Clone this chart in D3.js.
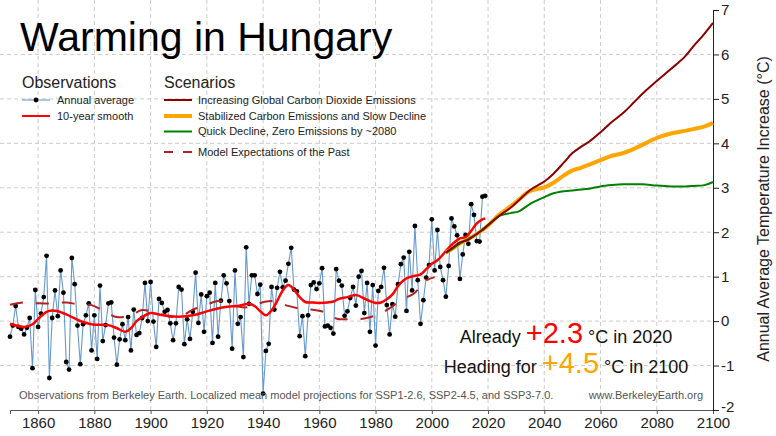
<!DOCTYPE html>
<html>
<head>
<meta charset="utf-8">
<script src="https://cdn.jsdelivr.net/npm/d3@7"></script>
<style>
  body { margin: 0; background: #fff; }
  svg { display: block; font-family: "Liberation Sans", Arial, sans-serif; }
  .grid line { stroke: #cccccc; stroke-width: 1; stroke-dasharray: 4,3; }
  .axis text { font-size: 15px; fill: #222; }
</style>
</head>
<body>
<svg id="chart"></svg>
<script>
// Annual observations, starting 1850 (one value per year)
const obsStart = 1850;
const obsValues = [
  -0.35, -0.10, 0.34, -0.13, -0.17, -0.30, -0.15, 0.07, -1.06, 0.70,
  -0.13, 0.17, 0.54, 1.47, -1.28, 0.07, 0.69, 0.11, 1.14, 0.64,
  -0.92, -1.09, 1.42, 0.83, -0.10, -0.97, -0.07, 0.13, 0.40, -0.66,
  0.13, -0.85, 0.80, -0.45, -0.09, 0.40, 0.42, -0.37, -0.98, -0.41,
  -0.07, -0.43, 0.09, -0.66, 0.26, -0.31, -0.27, 0.07, 0.86, 0.00,
  0.88, -0.01, -0.58, 0.50, 0.41, 0.21, 0.25, -0.05, -0.43, -0.05,
  0.77, 0.71, -0.52, 0.04, -0.40, 0.21, 1.09, -0.04, 0.60, -0.24,
  0.56, 0.64, -0.49, 0.86, -0.35, 0.46, 1.03, 0.85, 0.45, -0.62,
  1.14, -0.06, 0.09, -0.81, 1.66, 0.39, 1.03, 1.03, 0.61, 0.82,
  -1.63, -0.67, -0.51, 0.77, 0.26, 0.75, 1.11, 0.76, 0.91, 1.29,
  1.65, 0.71, 0.67, -0.34, 0.11, -0.79, 0.13, 0.81, 0.87, 0.72,
  0.85, 1.19, -0.12, -0.10, -0.15, -0.28, 1.17, 0.91, 0.80, 0.12,
  0.22, 0.52, 0.77, 0.35, 1.00, 1.13, 0.18, 0.86, -0.24, 0.81,
  -0.55, 0.68, 0.77, 1.20, 0.36, -0.30, 0.38, 0.10, 0.83, 1.28,
  1.43, 0.23, 1.56, 0.69, 2.14, 0.92, -0.06, 0.47, 0.98, 1.26,
  2.29, 1.14, 2.05, 1.22, 0.92, 0.55, 1.24, 2.31, 2.13, 1.93,
  0.95, 1.50, 1.94, 1.74, 2.63, 2.39, 1.80, 1.79, 2.80, 2.82
];

// 10-year smooth
const smoothYears = [1850, 1855, 1858, 1860, 1863, 1865, 1867, 1870, 1873, 1876, 1880, 1885, 1888, 1891,
  1893, 1895, 1897, 1900, 1903, 1906, 1910, 1915, 1920, 1925, 1928, 1931, 1933, 1935, 1937, 1939,
  1941, 1943, 1945, 1947, 1949, 1951, 1953, 1955, 1957, 1960, 1963, 1965, 1967, 1970, 1973, 1975,
  1978, 1980, 1982, 1984, 1986, 1988, 1990, 1992, 1994, 1996, 1998, 2000, 2002, 2004, 2006, 2008,
  2010, 2012, 2014, 2016, 2018, 2019];
const smoothValues = [-0.06, -0.13, -0.07, 0.05, 0.21, 0.24, 0.22, 0.15, 0.06, -0.02, -0.08, -0.09, -0.16, -0.24,
  -0.16, 0.00, 0.09, 0.18, 0.15, 0.12, 0.10, 0.13, 0.22, 0.30, 0.33, 0.34, 0.37, 0.39, 0.34, 0.22,
  0.13, 0.24, 0.45, 0.69, 0.81, 0.71, 0.54, 0.43, 0.42, 0.41, 0.42, 0.44, 0.50, 0.54, 0.59, 0.54,
  0.45, 0.41, 0.42, 0.49, 0.60, 0.79, 0.92, 0.99, 1.02, 1.05, 1.17, 1.29, 1.37, 1.50, 1.65, 1.77,
  1.86, 1.89, 2.03, 2.20, 2.29, 2.31];

// Model expectations of the past
const modelYears = [1850, 1855, 1860, 1865, 1870, 1874, 1879, 1883, 1888, 1893, 1897, 1902, 1907, 1911,
  1915, 1919, 1924, 1928, 1931, 1934, 1938, 1943, 1948, 1953, 1957, 1962, 1966, 1971, 1976, 1981,
  1985, 1989, 1994, 1997, 2001];
const modelValues = [0.37, 0.42, 0.40, 0.40, 0.42, 0.38, 0.36, 0.24, 0.09, 0.13, 0.25, 0.18, 0.10, 0.11,
  0.26, 0.34, 0.45, 0.39, 0.33, 0.31, 0.39, 0.45, 0.36, 0.28, 0.26, 0.20, 0.06, 0.04, 0.06, 0.15,
  0.29, 0.47, 0.64, 0.88, 0.99];

// Scenario projections
const scenarioYears = [2005, 2008, 2010, 2013, 2015, 2018, 2020, 2024, 2028, 2031, 2035, 2040, 2043, 2047,
  2050, 2053, 2056, 2060, 2064, 2068, 2072, 2075, 2080, 2085, 2090, 2093, 2097, 2100];
const highValues = [1.54, 1.68, 1.77, 1.83, 1.92, 2.05, 2.16, 2.37, 2.55, 2.72, 2.95, 3.14, 3.30, 3.57,
  3.78, 3.92, 4.04, 4.25, 4.48, 4.68, 4.93, 5.12, 5.40, 5.67, 5.95, 6.18, 6.47, 6.71];
const midValues = [1.54, 1.66, 1.75, 1.85, 1.92, 2.05, 2.15, 2.40, 2.58, 2.74, 2.93, 3.01, 3.10, 3.28,
  3.39, 3.45, 3.52, 3.62, 3.72, 3.78, 3.88, 3.97, 4.12, 4.22, 4.28, 4.32, 4.38, 4.46];
const lowValues = [1.54, 1.66, 1.75, 1.85, 1.92, 2.06, 2.16, 2.37, 2.43, 2.47, 2.64, 2.79, 2.87, 2.92,
  2.94, 2.96, 2.98, 3.03, 3.06, 3.08, 3.08, 3.08, 3.05, 3.03, 3.03, 3.04, 3.06, 3.13];

const xTicks = [1860, 1880, 1900, 1920, 1940, 1960, 1980, 2000, 2020, 2040, 2060, 2080, 2100];
const yTicks = [-2, -1, 0, 1, 2, 3, 4, 5, 6, 7];
const gridYears = [1860, 1880, 1900, 1920, 1940, 1960, 1980, 2000, 2020, 2040, 2060, 2080];
const gridValues = [-1, 0, 1, 2, 3, 4, 5, 6];

const config = {
  containerWidth: 776,
  containerHeight: 436,
  margin: { top: 10, right: 63, bottom: 26, left: 10 }
};
const width = config.containerWidth - config.margin.left - config.margin.right;
const height = config.containerHeight - config.margin.top - config.margin.bottom;

const colors = {
  obs: '#6699cc',
  smooth: '#ff0000',
  model: '#b22222',
  high: '#8b0000',
  mid: '#ffa500',
  low: '#008000'
};

// Scales
const xScale = d3.scaleLinear().domain([1850, 2100]).range([0, width]);
const yScale = d3.scaleLinear().domain([-2, 7]).range([height, 0]);

const svg = d3.select('#chart')
  .attr('width', config.containerWidth)
  .attr('height', config.containerHeight);

const chart = svg.append('g')
  .attr('transform', `translate(${config.margin.left},${config.margin.top})`);

// Gridlines
chart.append('g')
  .attr('class', 'grid')
  .selectAll('line')
  .data(gridYears)
  .join('line')
  .attr('x1', d => xScale(d))
  .attr('x2', d => xScale(d))
  .attr('y1', -config.margin.top)
  .attr('y2', height);

chart.append('g')
  .attr('class', 'grid')
  .selectAll('line')
  .data(gridValues)
  .join('line')
  .attr('x1', -config.margin.left)
  .attr('x2', width)
  .attr('y1', d => yScale(d))
  .attr('y2', d => yScale(d));

// Axes
const xAxis = d3.axisBottom(xScale)
  .tickValues(xTicks)
  .tickFormat(d3.format('d'))
  .tickSize(4)
  .tickPadding(3);

const xAxisG = chart.append('g')
  .attr('class', 'axis x-axis')
  .attr('transform', `translate(0,${height})`)
  .call(xAxis);
xAxisG.select('.domain').attr('stroke', '#555');
xAxisG.selectAll('.tick line').attr('stroke', '#555');
xAxisG.selectAll('text').attr('font-family', null).attr('font-size', null);

const yAxis = d3.axisRight(yScale)
  .tickValues(yTicks)
  .tickFormat(d => d < 0 ? '-' + Math.abs(d) : String(d))
  .tickSize(6)
  .tickPadding(2);

const yAxisG = chart.append('g')
  .attr('class', 'axis y-axis')
  .attr('transform', `translate(${width},0)`)
  .call(yAxis);
yAxisG.select('.domain').attr('stroke', '#222');
yAxisG.selectAll('.tick line').attr('stroke', '#222');
yAxisG.selectAll('text').attr('font-family', null).attr('font-size', null);
// keep the bottom "-2" clear of the "2100" label
yAxisG.selectAll('.tick text').filter(d => d === -2).attr('dy', '0.1em');

svg.append('text')
  .attr('transform', 'translate(769,209) rotate(-90)')
  .attr('text-anchor', 'middle')
  .attr('font-size', 16)
  .attr('fill', '#222')
  .text('Annual Average Temperature Increase (°C)');

// Title
svg.append('text')
  .attr('x', 20)
  .attr('y', 51)
  .attr('font-size', 41)
  .attr('fill', '#000')
  .text('Warming in Hungary');

// Line generators
const toPoints = (years, values) => years.map((y, i) => ({ year: y, value: values[i] }));
const obsData = obsValues.map((v, i) => ({ year: obsStart + i, value: v }));

const straightLine = d3.line()
  .x(d => xScale(d.year))
  .y(d => yScale(d.value));

const curvedLine = d3.line()
  .x(d => xScale(d.year))
  .y(d => yScale(d.value))
  .curve(d3.curveCatmullRom.alpha(0.5));

// Observations
chart.append('path')
  .datum(obsData)
  .attr('fill', 'none')
  .attr('stroke', colors.obs)
  .attr('stroke-width', 1.1)
  .attr('d', straightLine);

chart.append('g')
  .selectAll('circle')
  .data(obsData)
  .join('circle')
  .attr('cx', d => xScale(d.year))
  .attr('cy', d => yScale(d.value))
  .attr('r', 2.4)
  .attr('fill', '#000');

// Model expectations of the past
chart.append('path')
  .datum(toPoints(modelYears, modelValues))
  .attr('fill', 'none')
  .attr('stroke', colors.model)
  .attr('stroke-width', 2)
  .attr('stroke-dasharray', '13,13')
  .attr('d', curvedLine);

// 10-year smooth
chart.append('path')
  .datum(toPoints(smoothYears, smoothValues))
  .attr('fill', 'none')
  .attr('stroke', colors.smooth)
  .attr('stroke-width', 2.5)
  .attr('d', curvedLine);

// Scenarios
[
  { values: midValues, color: colors.mid, w: 4 },
  { values: lowValues, color: colors.low, w: 2 },
  { values: highValues, color: colors.high, w: 2 }
].forEach(s => {
  chart.append('path')
    .datum(toPoints(scenarioYears, s.values))
    .attr('fill', 'none')
    .attr('stroke', s.color)
    .attr('stroke-width', s.w)
    .attr('d', curvedLine);
});

// Legend
const legend = svg.append('g').attr('class', 'legend');

legend.append('text').attr('x', 22).attr('y', 88).attr('font-size', 16).attr('fill', '#222').text('Observations');
legend.append('text').attr('x', 164).attr('y', 88).attr('font-size', 16).attr('fill', '#222').text('Scenarios');

const obsItems = [
  { label: 'Annual average', color: colors.obs, w: 1.1, dot: true, y: 100 },
  { label: '10-year smooth', color: colors.smooth, w: 2, dot: false, y: 116 }
];
const scenarioItems = [
  { label: 'Increasing Global Carbon Dioxide Emissions', color: colors.high, w: 2, dash: null, y: 100 },
  { label: 'Stabilized Carbon Emissions and Slow Decline', color: colors.mid, w: 4, dash: null, y: 116 },
  { label: 'Quick Decline, Zero Emissions by ~2080', color: colors.low, w: 2, dash: null, y: 131.5 },
  { label: 'Model Expectations of the Past', color: colors.model, w: 2, dash: '9,10', y: 152 }
];

obsItems.forEach(item => {
  const row = legend.append('g');
  row.append('line')
    .attr('x1', 22).attr('x2', 50)
    .attr('y1', item.y).attr('y2', item.y)
    .attr('stroke', item.color)
    .attr('stroke-width', item.w);
  if (item.dot) {
    row.append('circle').attr('cx', 36).attr('cy', item.y).attr('r', 2.4).attr('fill', '#000');
  }
  row.append('text')
    .attr('x', 57).attr('y', item.y).attr('dy', '0.35em')
    .attr('font-size', 11).attr('fill', '#222')
    .text(item.label);
});

scenarioItems.forEach(item => {
  const row = legend.append('g');
  row.append('line')
    .attr('x1', 164).attr('x2', 192)
    .attr('y1', item.y).attr('y2', item.y)
    .attr('stroke', item.color)
    .attr('stroke-width', item.w)
    .attr('stroke-dasharray', item.dash);
  row.append('text')
    .attr('x', 198).attr('y', item.y).attr('dy', '0.35em')
    .attr('font-size', 11).attr('fill', '#222')
    .text(item.label);
});

// Callout
const callout1 = svg.append('text')
  .attr('x', 566).attr('y', 343)
  .attr('text-anchor', 'middle')
  .attr('font-size', 18).attr('fill', '#111');
callout1.append('tspan').text('Already ');
callout1.append('tspan').attr('font-size', 29).attr('fill', colors.smooth).text('+2.3');
callout1.append('tspan').text(' °C in 2020');

const callout2 = svg.append('text')
  .attr('x', 566).attr('y', 373)
  .attr('text-anchor', 'middle')
  .attr('font-size', 18).attr('fill', '#111');
callout2.append('tspan').text('Heading for ');
callout2.append('tspan').attr('font-size', 29).attr('fill', colors.mid).text('+4.5');
callout2.append('tspan').text(' °C in 2100');

// Footer
svg.append('text')
  .attr('x', 19).attr('y', 399)
  .attr('font-size', 11).attr('fill', '#555')
  .text('Observations from Berkeley Earth. Localized mean model projections for SSP1-2.6, SSP2-4.5, and SSP3-7.0.');

svg.append('text')
  .attr('x', 703).attr('y', 399)
  .attr('text-anchor', 'end')
  .attr('font-size', 11).attr('fill', '#555')
  .text('www.BerkeleyEarth.org');
</script>
</body>
</html>
